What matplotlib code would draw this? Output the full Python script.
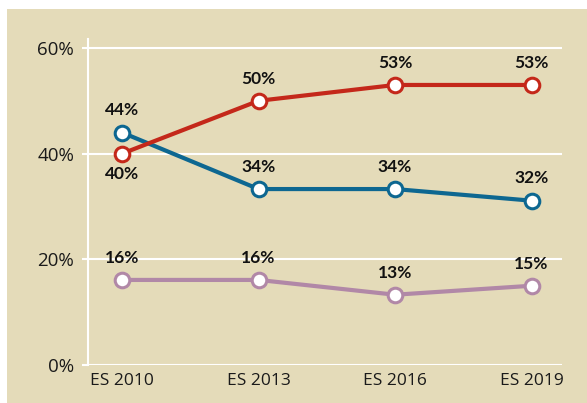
import matplotlib.pyplot as plt
from matplotlib.patches import Rectangle

# datos
encuestas = ['ES 2010', 'ES 2013', 'ES 2016', 'ES 2019']
rojo = [40, 50, 53, 53]
azul = [44, 34, 34, 32]
lila = [16, 16, 13, 15]

val_rojo = [40, 50, 53, 53]
val_azul = [44, 33.3, 33.3, 31.1]
val_lila = [16.1, 16.1, 13.3, 15]

plt.rcParams['font.family'] = ['Open Sans', 'DejaVu Sans']

fondo = '#e4dbb9'
fig = plt.figure(figsize=(5.87, 4.03), dpi=100)
fig.patch.set_facecolor('white')
fig.add_artist(Rectangle((7 / 587, 0), 1, (403 - 9) / 403,
                         transform=fig.transFigure, facecolor=fondo,
                         edgecolor='none', zorder=-10))

ax = fig.add_axes([88 / 587, 38 / 403, (562 - 88) / 587, (365 - 39) / 403])
ax.set_facecolor(fondo)
ax.patch.set_alpha(0)

x = range(len(encuestas))
series = [
    (val_azul, azul, '#0d6791', [16, 16, 16, 16]),
    (val_rojo, rojo, '#c4281a', [-15, 16, 16, 16]),
    (val_lila, lila, '#b188a7', [16, 16, 16, 16]),
]
for vals, etiquetas, color, offs in series:
    ax.plot(x, vals, '-o', color=color, lw=3, ms=10.5, mfc='white',
            mec=color, mew=2.2, zorder=3, clip_on=False)
    for i, (v, e, o) in enumerate(zip(vals, etiquetas, offs)):
        ax.annotate(f'{e}%', (i, v), xytext=(0, o), textcoords='offset points',
                    ha='center', va='center', fontsize=12.5,
                    fontweight='bold', family=['Lato', 'DejaVu Sans'],
                    color='#111111', zorder=4)

ax.set_xlim(-0.249, 3.223)
ax.set_ylim(0, 61.7)
ax.set_yticks([0, 20, 40, 60])
ax.set_yticklabels(['0%', '20%', '40%', '60%'])
ax.set_xticks(list(x))
ax.set_xticklabels(encuestas)

ax.grid(axis='y', color='white', lw=1.5)
ax.set_axisbelow(True)
for s in ['top', 'right', 'bottom']:
    ax.spines[s].set_visible(False)
ax.spines['left'].set_color('white')
ax.spines['left'].set_linewidth(1.5)
ax.tick_params(axis='y', length=4, width=1.5, color='white', pad=6,
               labelsize=13.5, labelcolor='#1a1a1a')
ax.tick_params(axis='x', length=0, pad=6, labelsize=12.5, labelcolor='#1a1a1a')

fig.savefig('out.png', dpi=100, facecolor=fig.get_facecolor())
